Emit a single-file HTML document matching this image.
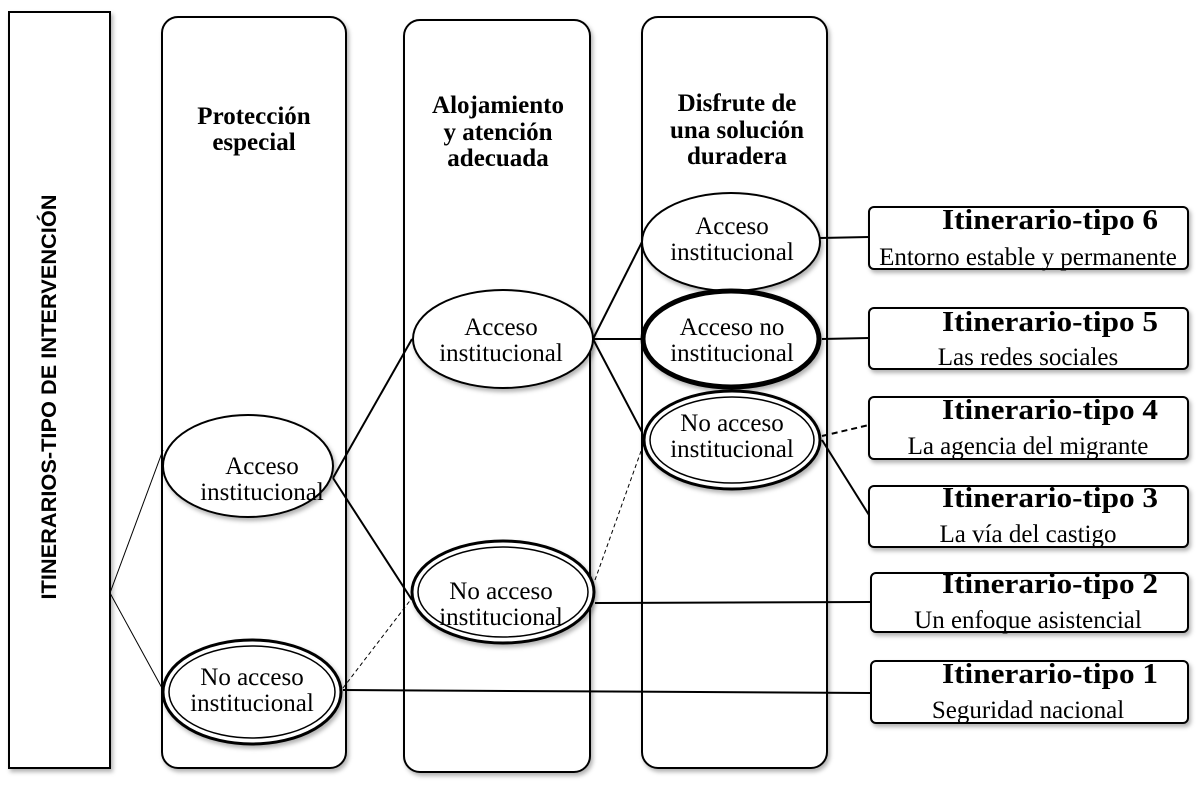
<!DOCTYPE html>
<html><head><meta charset="utf-8"><style>
html,body{margin:0;padding:0;background:#fff;}
svg{display:block;}
text{font-family:"Liberation Serif",serif;font-size:25px;fill:#000;}
.b{font-weight:bold;font-size:25px;}
.t{font-weight:bold;font-size:28px;}
</style></head><body>
<svg width="1204" height="788" viewBox="0 0 1204 788" xmlns="http://www.w3.org/2000/svg">
<defs><filter id="sh" x="-10%" y="-10%" width="130%" height="130%"><feDropShadow dx="2" dy="3" stdDeviation="2" flood-color="#000" flood-opacity="0.3"/></filter></defs>
<g fill="#fff" stroke="#000" stroke-width="2" filter="url(#sh)">
<rect x="9" y="12" width="101" height="756"/>
<rect x="162" y="17" width="184" height="751" rx="16"/>
<rect x="404" y="20" width="186" height="752" rx="16"/>
<rect x="642" y="17" width="185" height="751" rx="16"/>
</g>
<text transform="translate(56,397) rotate(-90)" text-anchor="middle" style="font-family:'Liberation Sans',sans-serif;font-weight:bold;font-size:21px" textLength="405" lengthAdjust="spacingAndGlyphs">ITINERARIOS-TIPO DE INTERVENCIÓN</text>
<g text-anchor="middle">
<text x="254" y="124" class="b">Protección</text><text x="254" y="150" class="b">especial</text>
<text x="498" y="113" class="b">Alojamiento</text><text x="498" y="140" class="b">y atención</text><text x="498" y="166" class="b">adecuada</text>
<text x="737" y="111" class="b">Disfrute de</text><text x="737" y="138" class="b">una solución</text><text x="737" y="164" class="b">duradera</text>
</g>
<g stroke="#000" fill="none">
<line x1="110" y1="593" x2="163" y2="450" stroke-width="1"/>
<line x1="110" y1="593" x2="162" y2="688" stroke-width="1"/>
<line x1="333" y1="478" x2="412" y2="339" stroke-width="2"/>
<line x1="333" y1="478" x2="412" y2="600" stroke-width="2"/>
<line x1="343" y1="688" x2="412" y2="598" stroke-width="1" stroke-dasharray="4,3"/>
<line x1="343" y1="690" x2="870" y2="693" stroke-width="2"/>
<line x1="593" y1="339" x2="643" y2="240" stroke-width="2"/>
<line x1="593" y1="339" x2="641" y2="339" stroke-width="2"/>
<line x1="593" y1="339" x2="642" y2="432" stroke-width="2"/>
<line x1="595" y1="580" x2="645" y2="440" stroke-width="1" stroke-dasharray="4,3"/>
<line x1="595" y1="603" x2="870" y2="602" stroke-width="2"/>
<line x1="820" y1="238" x2="869" y2="237" stroke-width="2"/>
<line x1="822" y1="339" x2="869" y2="338" stroke-width="2"/>
<line x1="822" y1="436" x2="869" y2="425" stroke-width="2" stroke-dasharray="6,4"/>
<line x1="822" y1="440" x2="869" y2="515" stroke-width="2"/>
</g>
<g fill="#fff" stroke="#000" filter="url(#sh)">
<ellipse cx="248" cy="466" rx="85" ry="51" stroke-width="2"/>
<ellipse cx="252" cy="692" rx="89" ry="52" stroke-width="3"/>
<ellipse cx="503" cy="339" rx="90" ry="49" stroke-width="2"/>
<ellipse cx="503" cy="592" rx="91" ry="51" stroke-width="3"/>
<ellipse cx="731" cy="242" rx="89" ry="49" stroke-width="2"/>
<ellipse cx="731" cy="339" rx="88" ry="48" stroke-width="5"/>
<ellipse cx="732" cy="440" rx="88" ry="49" stroke-width="3"/>
</g>
<g fill="none" stroke="#000" stroke-width="1.5">
<ellipse cx="252" cy="692" rx="83" ry="46"/>
<ellipse cx="503" cy="592" rx="85" ry="45"/>
<ellipse cx="732" cy="440" rx="82" ry="43"/>
</g>
<g text-anchor="middle">
<text x="262" y="474">Acceso</text><text x="262" y="500">institucional</text>
<text x="252" y="685">No acceso</text><text x="252" y="711">institucional</text>
<text x="501" y="335">Acceso</text><text x="501" y="361">institucional</text>
<text x="501" y="599">No acceso</text><text x="501" y="625">institucional</text>
<text x="732" y="234">Acceso</text><text x="732" y="260">institucional</text>
<text x="732" y="335">Acceso no</text><text x="732" y="361">institucional</text>
<text x="732" y="431">No acceso</text><text x="732" y="457">institucional</text>
</g>
<g fill="#fff" stroke="#000" stroke-width="2" filter="url(#sh)">
<rect x="869" y="207" width="319" height="62" rx="5"/>
<rect x="869" y="308" width="319" height="61" rx="5"/>
<rect x="869" y="397" width="319" height="62" rx="5"/>
<rect x="869" y="486" width="319" height="61" rx="5"/>
<rect x="871" y="573" width="317" height="59" rx="5"/>
<rect x="871" y="661" width="317" height="62" rx="5"/>
</g>
<g text-anchor="middle">
<text x="1050" y="229" class="t" textLength="216" lengthAdjust="spacingAndGlyphs">Itinerario-tipo 6</text><text x="1028" y="265">Entorno estable y permanente</text>
<text x="1050" y="331" class="t" textLength="216" lengthAdjust="spacingAndGlyphs">Itinerario-tipo 5</text><text x="1028" y="365">Las redes sociales</text>
<text x="1050" y="419" class="t" textLength="216" lengthAdjust="spacingAndGlyphs">Itinerario-tipo 4</text><text x="1028" y="454">La agencia del migrante</text>
<text x="1050" y="507" class="t" textLength="216" lengthAdjust="spacingAndGlyphs">Itinerario-tipo 3</text><text x="1028" y="542">La vía del castigo</text>
<text x="1050" y="593" class="t" textLength="216" lengthAdjust="spacingAndGlyphs">Itinerario-tipo 2</text><text x="1028" y="628">Un enfoque asistencial</text>
<text x="1050" y="683" class="t" textLength="216" lengthAdjust="spacingAndGlyphs">Itinerario-tipo 1</text><text x="1028" y="718">Seguridad nacional</text>
</g>
</svg>
</body></html>
